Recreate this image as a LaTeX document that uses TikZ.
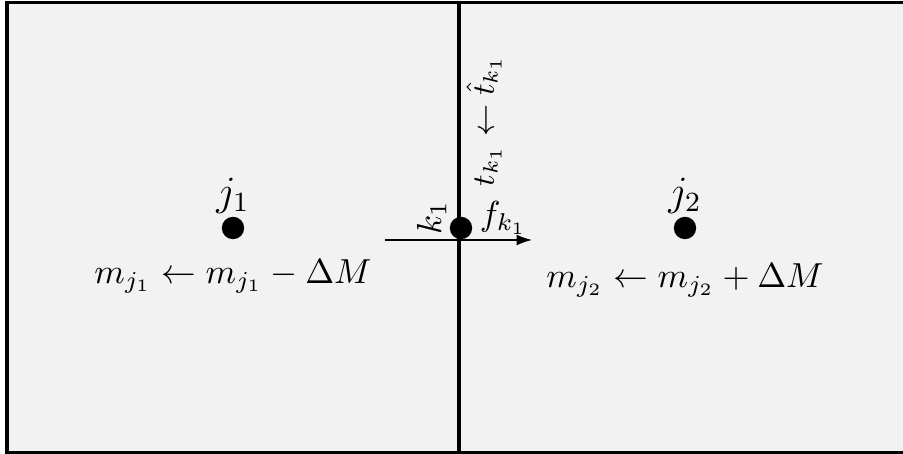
\documentclass[tikz,border=0pt]{standalone}
\usepackage{amsmath}
\usetikzlibrary{positioning,arrows.meta}
\begin{document}
\begin{tikzpicture}[
    x=0.288pt, y=0.288pt,
    cell/.style={draw=black, line width=0.88pt, fill=black!5},
    dot/.style={circle, fill=black, inner sep=0pt, minimum size=6.45pt},
    lbl/.style={inner sep=0pt},
    flow/.style={-{Latex[length=4.4pt,width=3.1pt]}, line width=0.42pt}
  ]
  \useasboundingbox (0,0) rectangle (903,454);
  \clip (0,0) rectangle (903,454);

  % Cells
  \draw[cell] (7,1.5) rectangle (459,451.5);
  \draw[cell] (459,1.5) rectangle (911,451.5);

  % Cell centres and face
  \node[dot] (j1) at (233,226) {};
  \node[dot] (j2) at (685,226) {};
  \node[dot] (k1) at (461,226) {};

  % Cell labels
  \node[lbl, above=0.6pt of j1] (j1lbl) {\large $j_1$};
  \node[lbl, above=0.6pt of j2] (j2lbl) {\large $j_2$};
  \node[lbl, below=5.4pt of j1] (m1) {$m_{j_1} \leftarrow m_{j_1} - \Delta M$};
  \node[lbl, below=6.6pt of j2] (m2) {$m_{j_2} \leftarrow m_{j_2} + \Delta M$};

  % Face labels
  \node[lbl, rotate=90, anchor=south] (k1lbl) at ([xshift=-0.6pt, yshift=2.9pt]k1.west) {$k_1$};
  \node[lbl, right=1.8pt of k1, yshift=2.9pt] (fk1) {$f_{k_1}$};
  \node[lbl, rotate=90, anchor=west] (tk1) at (484,267) {\small $t_{k_1} \leftarrow \hat{t}_{k_1}$};

  % Flux across the face
  \coordinate (fin) at (385,214);
  \coordinate (fout) at (532,214);
  \draw[flow] (fin) -- (fout);

\end{tikzpicture}
\end{document}
